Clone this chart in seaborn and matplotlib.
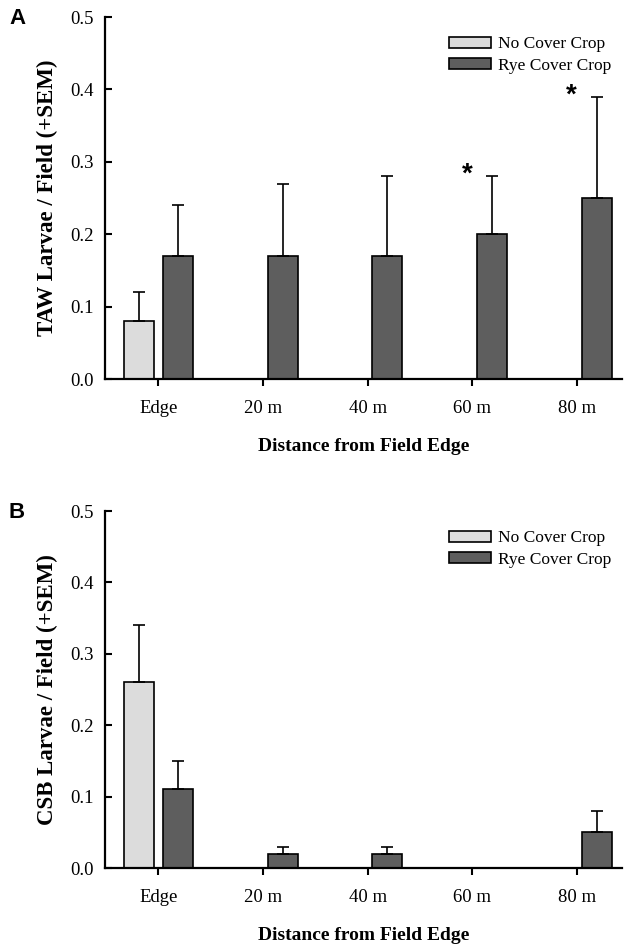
import numpy as np
import pandas as pd
import matplotlib
matplotlib.use("Agg")
import matplotlib.pyplot as plt
import seaborn as sns
from matplotlib.patches import Patch

# ---------------- data ----------------
categories = ["Edge", "20 m", "40 m", "60 m", "80 m"]
treatments = ["No Cover Crop", "Rye Cover Crop"]

taw_no_cover = [0.08, np.nan, np.nan, np.nan, np.nan]
taw_no_cover_sem = [0.04, np.nan, np.nan, np.nan, np.nan]
taw_rye = [0.17, 0.17, 0.17, 0.20, 0.25]
taw_rye_sem = [0.07, 0.10, 0.11, 0.08, 0.14]
taw_star_categories = ["60 m", "80 m"]

csb_no_cover = [0.26, np.nan, np.nan, np.nan, np.nan]
csb_no_cover_sem = [0.08, np.nan, np.nan, np.nan, np.nan]
csb_rye = [0.11, 0.02, 0.02, 0.0, 0.05]
csb_rye_sem = [0.04, 0.01, 0.01, np.nan, 0.03]
csb_star_categories = []

y_ticks = [0.0, 0.1, 0.2, 0.3, 0.4, 0.5]
colors = {"No Cover Crop": "#dcdcdc", "Rye Cover Crop": "#5e5e5e"}

# ---------------- style ----------------
sns.set_theme(style="ticks")
plt.rcParams["font.family"] = ["Liberation Serif", "DejaVu Serif"]
plt.rcParams["text.color"] = "black"
plt.rcParams["axes.labelcolor"] = "black"
plt.rcParams["xtick.color"] = "black"
plt.rcParams["ytick.color"] = "black"

W, H = 624, 947
fig = plt.figure(figsize=(W / 100, H / 100), dpi=100)
axA = fig.add_axes([105 / W, 1 - 379 / H, (622 - 105) / W, (379 - 17) / H])
axB = fig.add_axes([105 / W, 1 - 868 / H, (622 - 105) / W, (868 - 511) / H])


def panel(ax, no_vals, no_sem, rye_vals, rye_sem, ylabel, letter, letter_y, stars):
    df = pd.DataFrame({
        "Distance": categories * 2,
        "Treatment": [treatments[0]] * len(categories) + [treatments[1]] * len(categories),
        "Larvae": list(no_vals) + list(rye_vals),
        "SEM": list(no_sem) + list(rye_sem),
    })
    plot_df = df.dropna(subset=["Larvae"])
    sns.barplot(data=plot_df, x="Distance", y="Larvae", hue="Treatment",
                order=categories, hue_order=treatments, palette=colors,
                width=0.75, gap=0.23, edgecolor="black", linewidth=1.2,
                errorbar=None, legend=False, saturation=1, ax=ax)

    # upper-only SEM error bars
    for cont, trt in zip(ax.containers, treatments):
        sub = df[df["Treatment"] == trt].set_index("Distance")
        for bar in cont:
            xc = bar.get_x() + bar.get_width() / 2
            cat = categories[int(round(xc))]
            sem = sub.loc[cat, "SEM"]
            if np.isnan(sem):
                continue
            h = bar.get_height()
            ax.errorbar([xc], [h], yerr=[[0], [sem]], fmt="none", ecolor="black",
                        elinewidth=1.2, capsize=4, capthick=1.2, zorder=3)

    # significance stars
    rye_sub = df[df["Treatment"] == treatments[1]].set_index("Distance")
    for cat in stars:
        top = rye_sub.loc[cat, "Larvae"] + rye_sub.loc[cat, "SEM"]
        ax.text(categories.index(cat) - 0.05, top - 0.008, "*", ha="center", va="baseline",
                fontsize=20, fontweight="bold", family=["Liberation Sans", "DejaVu Sans"])

    ax.set_ylim(0, 0.5)
    ax.set_xlim(-0.51, 4.43)
    ax.set_yticks(y_ticks)
    ax.set_yticklabels([f"{v:.1f}" for v in y_ticks])
    for s in ["top", "right"]:
        ax.spines[s].set_visible(False)
    for s in ["left", "bottom"]:
        ax.spines[s].set_linewidth(1.6)
        ax.spines[s].set_color("black")
    ax.tick_params(axis="y", direction="in", length=5, width=1.5, labelsize=13.5, pad=8)
    ax.tick_params(axis="x", direction="out", length=5, width=1.5, labelsize=13.5, pad=10)
    ax.set_xlabel("Distance from Field Edge", fontsize=14, fontweight="bold", labelpad=15)
    ax.set_ylabel(ylabel, fontsize=16.5, fontweight="bold", labelpad=9)

    handles = [Patch(facecolor=colors[t], edgecolor="black", linewidth=1.2) for t in treatments]
    ax.legend(handles, treatments, loc="upper right", frameon=False, fontsize=12.5,
              handlelength=2.4, handleheight=0.6, handletextpad=0.45, labelspacing=0.3,
              bbox_to_anchor=(1.0, 0.975), borderaxespad=0.2)

    fig.text(17 / W, 1 - letter_y / H, letter, ha="center", va="center", fontsize=16,
             fontweight="bold", family=["Liberation Sans", "DejaVu Sans"])


panel(axA, taw_no_cover, taw_no_cover_sem, taw_rye, taw_rye_sem,
      "TAW Larvae / Field (+SEM)", "A", 19, taw_star_categories)
panel(axB, csb_no_cover, csb_no_cover_sem, csb_rye, csb_rye_sem,
      "CSB Larvae / Field (+SEM)", "B", 512, csb_star_categories)

fig.savefig("out.png", dpi=100)
